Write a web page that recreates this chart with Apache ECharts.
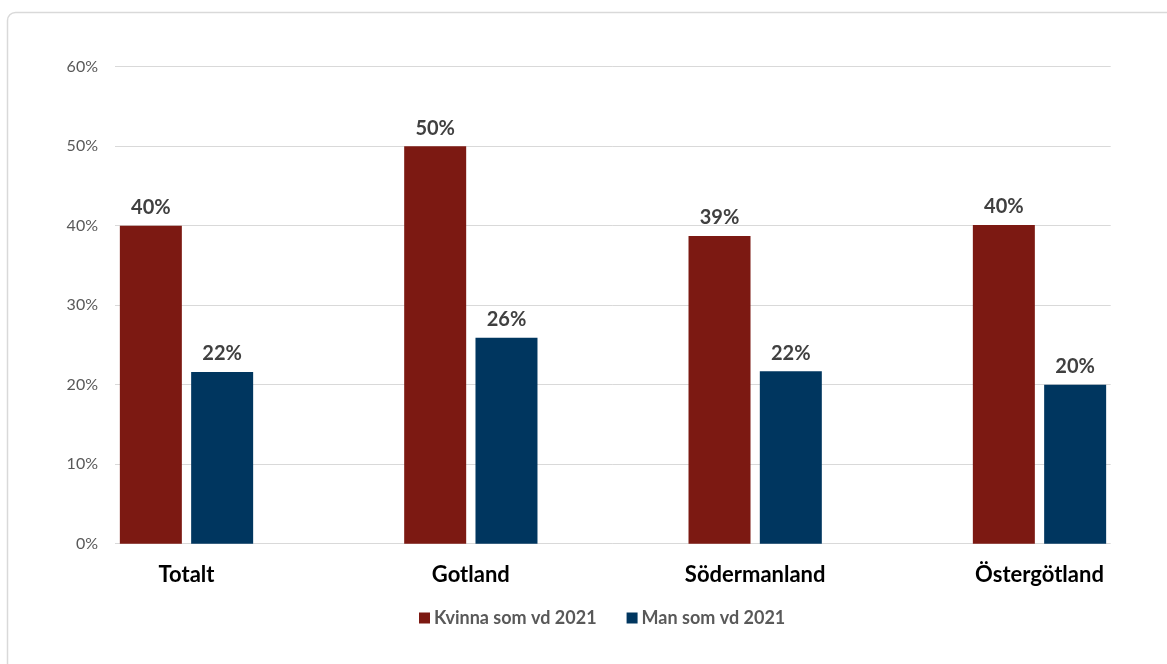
<!DOCTYPE html>
<html>
<head>
<meta charset="utf-8">
<script src="https://cdn.jsdelivr.net/npm/echarts@6/dist/echarts.min.js"></script>
<style>
html,body{margin:0;padding:0;background:#fff;}
#c{width:1167px;height:664px;}
</style>
</head>
<body>
<div id="c"></div>
<script>
var categories = ['Totalt', 'Gotland', 'Södermanland', 'Östergötland'];
var kvinna = [0.400, 0.500, 0.387, 0.401];
var man = [0.216, 0.259, 0.217, 0.200];
var seriesNames = ['Kvinna som vd 2021', 'Man som vd 2021'];
var yTicks = [0, 0.1, 0.2, 0.3, 0.4, 0.5, 0.6];

var FONT = 'Lato';
var chart = echarts.init(document.getElementById('c'), null, {renderer: 'canvas'});

function pct(v) { return Math.round(v * 100) + '%'; }

var labelStyle = {
  show: true, position: 'top', distance: 8,
  color: '#404040', fontFamily: FONT, fontWeight: 'bold', fontSize: 20,
  formatter: function (p) { return pct(p.value); }
};

chart.setOption({
  animation: false,
  backgroundColor: '#fff',
  graphic: [{
    type: 'rect', silent: true, z: -10,
    shape: {x: 7.5, y: 12.5, width: 1200, height: 700, r: 8},
    style: {fill: '#fff', stroke: '#d9d9d9', lineWidth: 1.5}
  }],
  legend: {
    data: seriesNames,
    left: 414, top: 604,
    itemWidth: 11, itemHeight: 11, itemGap: 30,
    icon: 'rect',
    textStyle: {color: '#595959', fontFamily: FONT, fontWeight: 'bold', fontSize: 18, padding: [0, 0, 0, -1]}
  },
  grid: [
    {left: 186.5, width: 853, top: 66.7, bottom: 120.3, containLabel: false},
    {left: 115, right: 56.3, top: 66.7, bottom: 120.3, containLabel: false}
  ],
  xAxis: [
    {
      type: 'category', gridIndex: 0, data: categories, boundaryGap: false,
      axisLine: {show: false}, axisTick: {show: false}, splitLine: {show: false},
      axisLabel: {color: '#000', fontFamily: FONT, fontWeight: 'bold', fontSize: 22, margin: 20}
    },
    {
      type: 'category', gridIndex: 1, data: categories, show: false
    }
  ],
  yAxis: [
    {
      type: 'value', gridIndex: 0, min: 0, max: 0.6, interval: 0.1, show: false,
      splitLine: {show: false}
    },
    {
      type: 'value', gridIndex: 1, min: 0, max: 0.6, interval: 0.1,
      axisLine: {show: false}, axisTick: {show: false},
      axisLabel: {
        color: '#595959', fontFamily: FONT, fontSize: 16, margin: 17,
        formatter: function (v) { return pct(v); }
      },
      splitLine: {lineStyle: {color: '#d9d9d9', width: 1}}
    }
  ],
  series: [
    {
      name: seriesNames[0], type: 'bar', xAxisIndex: 0, yAxisIndex: 0,
      data: kvinna, barWidth: 62, barGap: '15%',
      itemStyle: {color: '#7c1912'},
      label: labelStyle, z: 3
    },
    {
      name: seriesNames[1], type: 'bar', xAxisIndex: 0, yAxisIndex: 0,
      data: man, barWidth: 62, barGap: '15%',
      itemStyle: {color: '#00365f'},
      label: labelStyle, z: 3
    }
  ]
});
</script>
</body>
</html>
